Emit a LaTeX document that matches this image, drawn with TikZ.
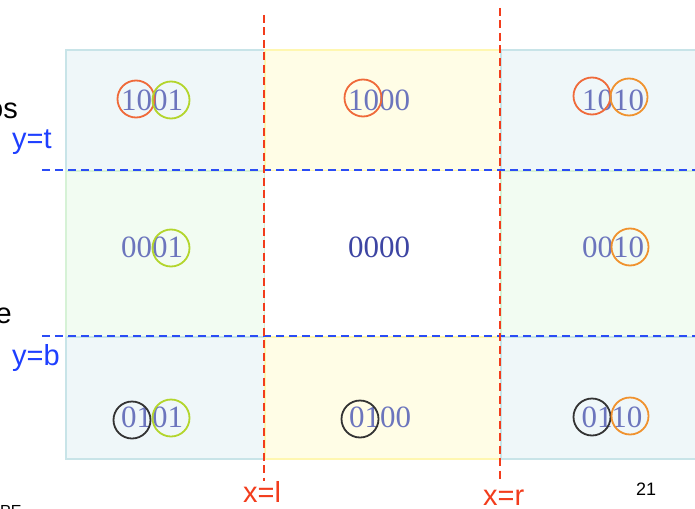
\documentclass[tikz,border=0pt]{standalone}
\usepackage{fontspec}
\setmainfont{Liberation Serif}
\newfontfamily\arialfont{Liberation Sans}
\definecolor{blueFill}{HTML}{EFF7F9}
\definecolor{blueEdge}{HTML}{C8E4E8}
\definecolor{greenFill}{HTML}{F2FCF2}
\definecolor{greenEdge}{HTML}{D6F2D6}
\definecolor{yelFill}{HTML}{FFFDE6}
\definecolor{yelEdge}{HTML}{FFF7B0}
\definecolor{codeCol}{HTML}{6C75BD}
\definecolor{codeDark}{HTML}{3D45A3}
\definecolor{ringRed}{HTML}{EF6A3A}
\definecolor{ringGreen}{HTML}{B3D52C}
\definecolor{ringOrange}{HTML}{F0922E}
\definecolor{ringBlack}{HTML}{333333}
\definecolor{lineRed}{HTML}{F23C1C}
\definecolor{lineBlue}{HTML}{2B4CF5}
\definecolor{labBlue}{HTML}{1E3FFF}
\definecolor{labRed}{HTML}{F23C1C}
\begin{document}
\begin{tikzpicture}[x=1pt,y=-1pt,
  cell/.style={rectangle, inner sep=0pt, line width=1.6pt, anchor=north west},
  cellb/.style={cell, fill=blueFill, draw=blueEdge},
  cellg/.style={cell, fill=greenFill, draw=greenEdge},
  celly/.style={cell, fill=yelFill, draw=yelEdge},
  cellw/.style={cell, fill=white, draw=none},
  code/.style={inner sep=0pt, text=codeCol, font=\fontsize{31}{31}\selectfont},
  ring/.style={circle, draw=#1, line width=1.8pt, inner sep=0pt, minimum size=37pt},
  vline/.style={draw=lineRed, line width=1.8pt, dash pattern=on 8pt off 4.5pt},
  hline/.style={draw=lineBlue, line width=1.8pt, dash pattern=on 8pt off 5pt},
  lab/.style={inner sep=0pt, font=\arialfont\fontsize{29}{29}\selectfont, anchor=base west},
  side/.style={inner sep=0pt, font=\arialfont\fontsize{29}{29}\selectfont, anchor=base east}
]
\useasboundingbox (0,0) rectangle (695,508);
\fill[white] (0,0) rectangle (695,508);

% cells
\node[cellb, minimum width=199pt, minimum height=121pt] (tl) at (65,49) {};
\node[celly, minimum width=236pt, minimum height=121pt] (tm) at (264,49) {};
\node[cellb, minimum width=205pt, minimum height=121pt] (tr) at (500,49) {};
\node[cellg, minimum width=199pt, minimum height=166pt] (ml) at (65,170) {};
\node[cellw, minimum width=236pt, minimum height=166pt] (mm) at (264,170) {};
\node[cellg, minimum width=205pt, minimum height=166pt] (mr) at (500,170) {};
\node[cellb, minimum width=199pt, minimum height=122pt] (bl) at (65,336) {};
\node[celly, minimum width=236pt, minimum height=122pt] (bm) at (264,336) {};
\node[cellb, minimum width=205pt, minimum height=122pt] (br) at (500,336) {};

% codes
\node[code] (k1001) at (152,100) {1001};
\node[code] (k1000) at (379,100) {1000};
\node[code] (k1010) at (613,100) {1010};
\node[code] (k0001) at (152,247) {0001};
\node[code, text=codeDark] (k0000) at (379,247) {0000};
\node[code] (k0010) at (613,247) {0010};
\node[code] (k0101) at (152,417) {0101};
\node[code] (k0100) at (380,417) {0100};
\node[code] (k0110) at (612,417) {0110};

% rings
\node[ring=ringRed] (r1a) at (136,99) {};
\node[ring=ringGreen] (r1b) at (171,100) {};
\node[ring=ringRed] (r2a) at (363,98) {};
\node[ring=ringRed] (r3a) at (592,96) {};
\node[ring=ringOrange] (r3b) at (629,97) {};
\node[ring=ringGreen] (r4b) at (171,248) {};
\node[ring=ringOrange] (r6b) at (630,247) {};
\node[ring=ringBlack] (r7a) at (132,420) {};
\node[ring=ringGreen] (r7b) at (171,418) {};
\node[ring=ringBlack] (r8a) at (360,419) {};
\node[ring=ringBlack] (r9a) at (592,417) {};
\node[ring=ringOrange] (r9b) at (630,416) {};

% dashed boundary lines
\coordinate (tA) at (42,170);
\coordinate (tB) at (695,170);
\coordinate (bA) at (42,336);
\coordinate (bB) at (695,336);
\coordinate (lA) at (264,15);
\coordinate (lB) at (264,481);
\coordinate (rA) at (500,8);
\coordinate (rB) at (500,482);
\draw[hline] (tA) -- (tB);
\draw[hline] (bA) -- (bB);
\draw[vline] (lA) -- (lB);
\draw[vline] (rA) -- (rB);

% labels
\node[lab, text=labBlue] (yt) at (12,148) {y=t};
\node[lab, text=labBlue] (yb) at (12,365) {y=b};
\node[lab, text=labRed] (xl) at (243,502) {x=l};
\node[lab, text=labRed] (xr) at (483,505) {x=r};
\node[inner sep=0pt, anchor=base west, font=\arialfont\fontsize{18}{18}\selectfont] (pg) at (636,495) {21};
\node[side] (os) at (18,118) {os};
\node[side] (ee) at (12,323) {e};
\node[inner sep=0pt, anchor=base west, font=\arialfont\fontsize{16}{16}\selectfont] (ft) at (0,516) {PE};
\end{tikzpicture}
\end{document}
